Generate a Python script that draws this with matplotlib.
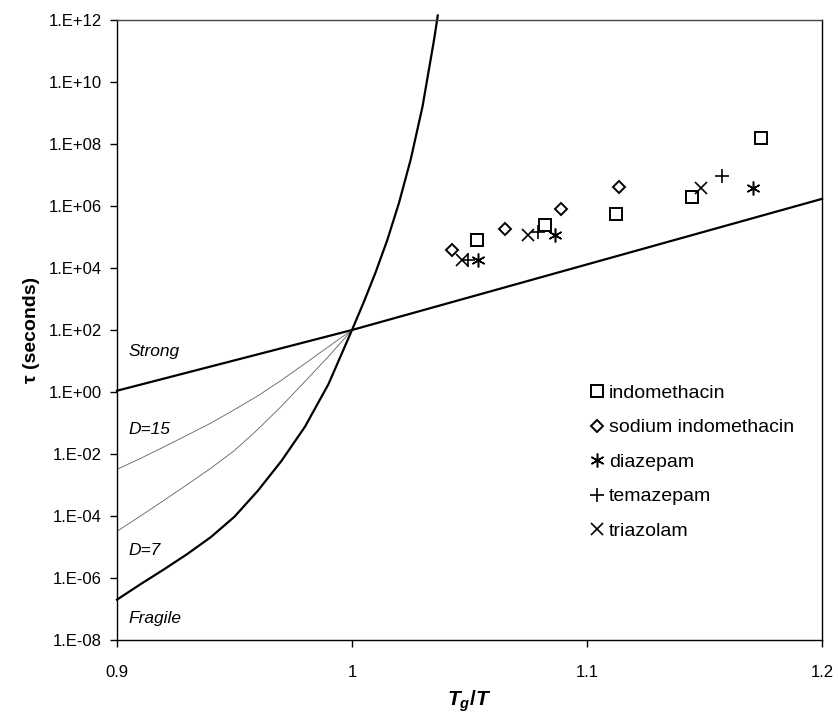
import matplotlib
matplotlib.use('Agg')
import matplotlib.pyplot as plt
from matplotlib.ticker import FixedLocator, NullLocator

plt.rcParams['font.family'] = ['Liberation Sans', 'DejaVu Sans']
plt.rcParams['mathtext.fontset'] = 'custom'
plt.rcParams['mathtext.it'] = 'Liberation Sans:italic:bold'
plt.rcParams['mathtext.rm'] = 'Liberation Sans:bold'

# reference curves (Tg/T, tau in s)
strong_x = [0.9, 1.0, 1.2]
strong_tau = [1.1e0, 1.0e2, 1.7e6]

d15_x = [0.90, 0.91, 0.92, 0.93, 0.94, 0.95, 0.96, 0.97, 0.98, 0.99, 1.0]
d15_tau = [3.2e-3, 7.2e-3, 1.7e-2, 4.1e-2, 1.0e-1, 2.7e-1, 7.6e-1, 2.4e0, 8.3e0, 2.9e1, 1.0e2]

d7_x = [0.90, 0.91, 0.92, 0.93, 0.94, 0.95, 0.96, 0.97, 0.98, 0.99, 1.0]
d7_tau = [3.2e-5, 1.0e-4, 3.2e-4, 1.05e-3, 3.5e-3, 1.3e-2, 6.3e-2, 3.5e-1, 2.2e0, 1.4e1, 1.0e2]

fragile_x = [0.90, 0.91, 0.92, 0.93, 0.94, 0.95, 0.96, 0.97, 0.98, 0.99, 1.0,
             1.005, 1.01, 1.015, 1.02, 1.025, 1.03, 1.035, 1.0365]
fragile_tau = [2.0e-7, 6.3e-7, 1.9e-6, 6.0e-6, 2.1e-5, 9.5e-5, 6.6e-4, 6.0e-3, 7.6e-2,
               1.8e0, 1.0e2, 7.9e2, 7.1e3, 7.9e4, 1.26e6, 3.2e7, 1.6e9, 2.5e11, 1.4e12]

# measured relaxation times
indo_x = [1.0533, 1.0821, 1.1122, 1.1446, 1.174]
indo_tau = [8.0e4, 2.5e5, 5.5e5, 2.0e6, 1.6e8]

naindo_x = [1.0424, 1.0651, 1.0888, 1.1136]
naindo_tau = [3.8e4, 1.8e5, 8.1e5, 4.1e6]

diaz_x = [1.0538, 1.0864, 1.1708]
diaz_tau = [1.8e4, 1.15e5, 3.7e6]

tema_x = [1.0495, 1.0793, 1.1573]
tema_tau = [1.8e4, 1.5e5, 9.0e6]

tria_x = [1.0467, 1.0750, 1.1484]
tria_tau = [1.8e4, 1.15e5, 3.7e6]

ytick_vals = [1e-8, 1e-6, 1e-4, 1e-2, 1e0, 1e2, 1e4, 1e6, 1e8, 1e10, 1e12]
ytick_labels = ['1.E-08', '1.E-06', '1.E-04', '1.E-02', '1.E+00', '1.E+02',
                '1.E+04', '1.E+06', '1.E+08', '1.E+10', '1.E+12']
xtick_vals = [0.9, 1.0, 1.1, 1.2]
xtick_labels = ['0.9', '1', '1.1', '1.2']


def plot():
    fig = plt.figure(figsize=(8.38, 7.15), dpi=100)
    ax = fig.add_axes([0.1396, 0.1049, 0.8413, 0.8671])

    ax.plot(strong_x, strong_tau, color='black', lw=1.6, clip_on=False)
    ax.plot(d15_x, d15_tau, color='#606060', lw=0.6)
    ax.plot(d7_x, d7_tau, color='#606060', lw=0.6)
    ax.plot(fragile_x, fragile_tau, color='black', lw=1.6, clip_on=False)

    mk = dict(linestyle='none', color='black', markerfacecolor='none')
    ax.plot(indo_x, indo_tau, marker='s', markersize=8.5, mew=1.4, label='indomethacin', **mk)
    ax.plot(naindo_x, naindo_tau, marker='D', markersize=6, mew=1.4, label='sodium indomethacin', **mk)
    ax.plot(diaz_x, diaz_tau, marker=(6, 2, 0), markersize=10, mew=1.1, label='diazepam', **mk)
    ax.plot(tema_x, tema_tau, marker='+', markersize=10, mew=1.2, label='temazepam', **mk)
    ax.plot(tria_x, tria_tau, marker='x', markersize=9, mew=1.2, label='triazolam', **mk)

    ax.set_yscale('log')
    ax.set_xlim(0.9, 1.2)
    ax.set_ylim(1e-8, 1e12)
    ax.yaxis.set_major_locator(FixedLocator(ytick_vals))
    ax.yaxis.set_minor_locator(NullLocator())
    ax.set_yticklabels(ytick_labels)
    ax.set_xticks(xtick_vals)
    ax.set_xticklabels(xtick_labels)
    ax.tick_params(axis='both', direction='out', length=5, width=1, labelsize=12, pad=6)
    ax.tick_params(axis='x', pad=13)

    for s in ax.spines.values():
        s.set_linewidth(1.0)
    ax.spines['top'].set_color('#444444')

    kw = dict(transform=ax.transData, fontsize=12.5, style='italic', ha='left', va='center')
    ax.text(0.905, 10**1.3, 'Strong', **kw)
    ax.text(0.905, 10**-1.2, 'D=15', **kw)
    ax.text(0.905, 10**-5.1, 'D=7', **kw)
    ax.text(0.905, 10**-7.3, 'Fragile', **kw)

    ax.set_xlabel(r'$T_g/T$', fontsize=15, labelpad=6)
    ax.set_ylabel('τ (seconds)', fontsize=14, fontweight='bold', labelpad=6)

    ax.legend(loc='upper left', bbox_to_anchor=(0.655, 0.425), frameon=False,
              fontsize=14, handletextpad=0.05, labelspacing=0.87, handlelength=1.1,
              borderaxespad=0)

    fig.savefig('out.png', dpi=100)


plot()
